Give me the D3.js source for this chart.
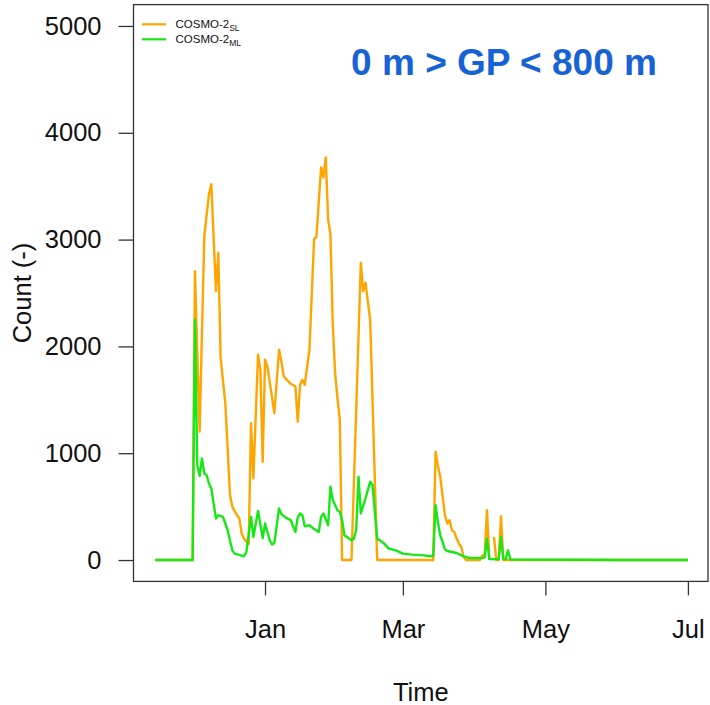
<!DOCTYPE html>
<html>
<head>
<meta charset="utf-8">
<script src="https://cdn.jsdelivr.net/npm/d3@7"></script>
<style>
  html, body { margin: 0; padding: 0; background: #fff; }
  svg text { font-family: "Liberation Sans", Arial, Helvetica, sans-serif; }
</style>
</head>
<body>
<svg id="chart" width="710" height="705"></svg>
<script>
// ---------- data ----------
const datesSL = ["2013-11-15","2013-12-01","2013-12-02","2013-12-04","2013-12-06","2013-12-08","2013-12-09","2013-12-11","2013-12-12","2013-12-13","2013-12-15","2013-12-17","2013-12-18","2013-12-20","2013-12-21","2013-12-22","2013-12-23","2013-12-24","2013-12-25","2013-12-26","2013-12-27","2013-12-29","2013-12-30","2013-12-31","2014-01-01","2014-01-02","2014-01-05","2014-01-07","2014-01-08","2014-01-09","2014-01-11","2014-01-12","2014-01-14","2014-01-15","2014-01-16","2014-01-17","2014-01-18","2014-01-20","2014-01-22","2014-01-23","2014-01-25","2014-01-26","2014-01-27","2014-01-28","2014-01-29","2014-01-30","2014-01-31","2014-02-01","2014-02-02","2014-02-03","2014-02-07","2014-02-11","2014-02-12","2014-02-13","2014-02-15","2014-02-18","2014-03-14","2014-03-15","2014-03-16","2014-03-17","2014-03-18","2014-03-19","2014-03-20","2014-03-21","2014-03-22","2014-03-23","2014-03-24","2014-03-25","2014-03-26","2014-03-27","2014-03-28","2014-04-03","2014-04-04","2014-04-05","2014-04-06","2014-04-07","2014-04-08","2014-04-09","2014-04-10","2014-04-11","2014-04-12","2014-04-13","2014-07-01"];
const valuesSL = [0,0,2705,1202,3033,3425,3519,2517,2877,1891,1469,608,498,420,390,248,200,175,150,1281,764,1922,1781,920,1875,1812,1375,1969,1860,1719,1672,1650,1625,1296,1641,1688,1641,1969,3003,3028,3676,3582,3770,3190,3049,2200,1750,1516,1312,0,0,2784,2517,2596,2251,0,0,1014,880,780,600,420,342,373,279,263,201,154,122,30,0,0,44,44,467,0,null,216,0,0,410,0,0];

const datesML = ["2013-11-15","2013-12-01","2013-12-02","2013-12-03","2013-12-04","2013-12-05","2013-12-06","2013-12-07","2013-12-08","2013-12-09","2013-12-10","2013-12-11","2013-12-12","2013-12-14","2013-12-16","2013-12-17","2013-12-18","2013-12-19","2013-12-21","2013-12-23","2013-12-24","2013-12-26","2013-12-27","2013-12-29","2013-12-31","2014-01-01","2014-01-03","2014-01-04","2014-01-05","2014-01-07","2014-01-08","2014-01-10","2014-01-12","2014-01-14","2014-01-15","2014-01-16","2014-01-17","2014-01-18","2014-01-20","2014-01-22","2014-01-24","2014-01-25","2014-01-26","2014-01-28","2014-01-29","2014-01-30","2014-02-01","2014-02-02","2014-02-03","2014-02-04","2014-02-06","2014-02-07","2014-02-08","2014-02-09","2014-02-10","2014-02-11","2014-02-13","2014-02-15","2014-02-16","2014-02-18","2014-02-21","2014-02-23","2014-02-26","2014-03-01","2014-03-05","2014-03-10","2014-03-13","2014-03-14","2014-03-15","2014-03-16","2014-03-17","2014-03-18","2014-03-19","2014-03-20","2014-03-22","2014-03-24","2014-03-27","2014-03-29","2014-04-04","2014-04-05","2014-04-06","2014-04-07","2014-04-11","2014-04-12","2014-04-13","2014-04-14","2014-04-15","2014-04-16","2014-05-15","2014-06-01","2014-07-01"];
const valuesML = [0,0,2251,889,786,952,811,795,717,670,530,389,420,404,279,180,91,60,48,35,75,404,216,460,205,342,185,145,160,483,430,395,373,263,400,436,420,316,326,290,263,404,436,326,686,561,467,451,373,232,201,185,200,279,780,436,577,733,702,201,154,107,91,60,51,44,35,40,514,357,230,170,100,85,75,66,35,22,18,25,201,10,8,216,10,8,91,5,3,1,0];

const seriesNames = ["COSMO-2", "COSMO-2"];
const seriesSubs = ["SL", "ML"];
const seriesColors = ["#FFA500", "#16E816"];
const yTicks = [0, 1000, 2000, 3000, 4000, 5000];
const xTickDates = ["2014-01-01", "2014-03-01", "2014-05-01", "2014-07-01"];
const xTickLabels = ["Jan", "Mar", "May", "Jul"];
const titleText = "0 m > GP < 800 m";
const xLabel = "Time";
const yLabel = "Count (-)";

// ---------- layout ----------
const parse = d3.utcParse("%Y-%m-%d");
const svg = d3.select("#chart");
const box = { left: 133.5, right: 708, top: 4.6, bottom: 581.4 };

const DAY = 86400000;
const jan1 = parse("2014-01-01");
const x = d3.scaleUtc()
  .domain([new Date(+jan1 - 56.3 * DAY), new Date(+jan1 + 189.6 * DAY)])
  .range([box.left, box.right]);
const y = d3.scaleLinear().domain([-200, 5200]).range([box.bottom, box.top]);

const sl = datesSL.map((d, i) => ({ t: parse(d), v: valuesSL[i] }));
const ml = datesML.map((d, i) => ({ t: parse(d), v: valuesML[i] }));

const line = d3.line()
  .defined(d => d.v !== null)
  .x(d => x(d.t))
  .y(d => y(d.v));

const plot = svg.append("g");
plot.append("path").datum(sl)
  .attr("d", line).attr("fill", "none")
  .attr("stroke", seriesColors[0]).attr("stroke-width", 2.4)
  .attr("stroke-linejoin", "round");
plot.append("path").datum(ml)
  .attr("d", line).attr("fill", "none")
  .attr("stroke", seriesColors[1]).attr("stroke-width", 2.4)
  .attr("stroke-linejoin", "round");

// box
svg.append("rect")
  .attr("x", box.left).attr("y", box.top)
  .attr("width", box.right - box.left).attr("height", box.bottom - box.top)
  .attr("fill", "none").attr("stroke", "#333").attr("stroke-width", 1.3);

// y axis
const yAxis = d3.axisLeft(y).tickValues(yTicks).tickSize(15).tickPadding(17)
  .tickFormat(d3.format("d"));
const gy = svg.append("g").attr("transform", `translate(${box.left},0)`).call(yAxis);
gy.select(".domain").remove();
gy.selectAll(".tick line").attr("stroke", "#333").attr("stroke-width", 1.3);
gy.selectAll(".tick text").attr("font-size", 25.5).attr("fill", "#111");

// x axis
const xAxis = d3.axisBottom(x).tickValues(xTickDates.map(parse)).tickSize(14).tickPadding(25)
  .tickFormat((d, i) => xTickLabels[i]);
const gx = svg.append("g").attr("transform", `translate(0,${box.bottom})`).call(xAxis);
gx.select(".domain").remove();
gx.selectAll(".tick line").attr("stroke", "#333").attr("stroke-width", 1.3);
gx.selectAll(".tick text").attr("font-size", 25.5).attr("fill", "#111");

// axis titles
svg.append("text").attr("x", (box.left + box.right) / 2).attr("y", 701)
  .attr("text-anchor", "middle").attr("font-size", 25.5).attr("fill", "#111").text(xLabel);
svg.append("text").attr("transform", "translate(31,293) rotate(-90)")
  .attr("text-anchor", "middle").attr("font-size", 25.5).attr("fill", "#111").text(yLabel);

// title
svg.append("text").attr("x", 504).attr("y", 74.5)
  .attr("text-anchor", "middle").attr("font-size", 37).attr("font-weight", "bold")
  .attr("fill", "#1763D6").text(titleText);

// legend
const leg = svg.append("g");
seriesNames.forEach((name, i) => {
  const ly = 24.3 + i * 15;
  leg.append("line").attr("x1", 142).attr("x2", 166).attr("y1", ly).attr("y2", ly)
    .attr("stroke", seriesColors[i]).attr("stroke-width", 2.2);
  const t = leg.append("text").attr("x", 175.5).attr("y", ly + 4)
    .attr("font-size", 11.5).attr("fill", "#111");
  t.append("tspan").text(name);
  t.append("tspan").attr("font-size", 8.5).attr("dy", 2.5).text(seriesSubs[i]);
});
</script>
</body>
</html>
